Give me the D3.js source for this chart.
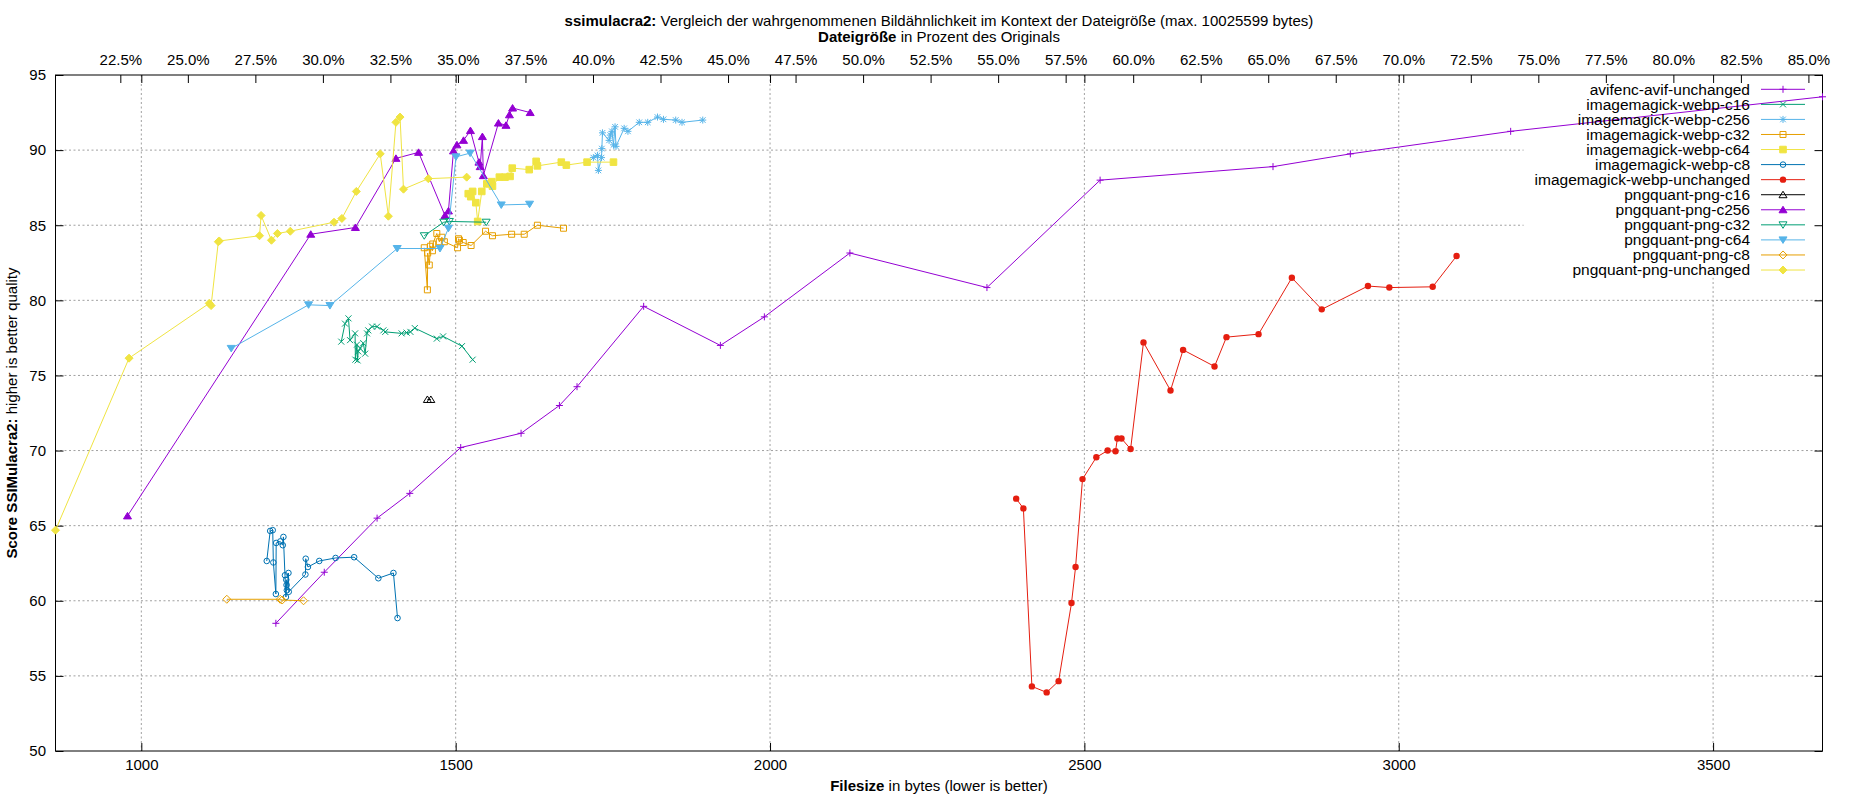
<!DOCTYPE html>
<html>
<head>
<meta charset="utf-8">
<title>ssimulacra2 Vergleich</title>
<style>
    body {
        margin: 0;
        background: #ffffff;
    }
    svg {
        display: block;
        font-family: "Liberation Sans", Arial, sans-serif;
        font-size: 15px;
    }
    .tick text {
        font-size: 15px;
        fill: #000000;
    }
    .tick line {
        stroke: #000000;
    }
    .legend text {
        font-size: 15.5px;
    }
</style>
</head>
<body>
<svg id="chart" width="1850" height="800"></svg>

<script src="https://d3js.org/d3.v7.min.js"></script>
<script>
// every series: [filesize in bytes, ssimulacra2 score]
const avifencAvifUnchanged = [
    [1214, 58.5], [1291, 61.9], [1375, 65.5], [1427, 67.15], [1508, 70.2], [1604, 71.15],
    [1665, 73.0], [1693, 74.25], [1799, 79.6], [1921, 77.0], [1991, 78.9], [2127, 83.15],
    [2345, 80.85], [2525, 88.0], [2800, 88.9], [2923, 89.75], [3178, 91.25], [3674, 93.55]
];
const imagemagickWebpC16 = [
    [1318, 77.25], [1324, 78.45], [1329.5, 78.8], [1332, 77.35], [1340, 77.8], [1340.5, 76.05],
    [1343, 77.05], [1344, 76.0], [1345, 76.6], [1348, 76.8], [1353, 77.15], [1356, 76.45],
    [1359, 77.8], [1361, 78.0], [1367, 78.25], [1375, 78.25], [1385, 78.0], [1388, 77.9],
    [1414, 77.8], [1422, 77.85], [1428, 77.9], [1435, 78.15], [1470, 77.45], [1480, 77.6],
    [1510, 76.95], [1527, 76.05]
];
const imagemagickWebpC256 = [
    [1719, 89.5], [1725.5, 89.65], [1727, 88.65], [1732, 89.5], [1732.5, 90.1], [1733.5, 91.15],
    [1744, 90.65], [1746, 91.0], [1748.5, 91.25], [1751, 90.35], [1753.5, 91.55], [1755, 90.25],
    [1768, 91.45], [1774, 91.25], [1792, 91.85], [1805.5, 91.85], [1821, 92.2], [1830.5, 92.05],
    [1850, 92.0], [1860, 91.85], [1893, 92.0]
];
const imagemagickWebpC32 = [
    [1450, 83.5], [1455, 80.7], [1455.5, 83.15], [1458, 82.35], [1460, 83.6], [1463, 83.3],
    [1463.5, 83.75], [1470, 84.45], [1474, 83.9], [1478, 84.2], [1482, 83.9], [1503, 83.5],
    [1504.5, 84.1], [1506, 84.0], [1512, 83.85], [1524.5, 83.65], [1547.5, 84.6], [1558.5, 84.3],
    [1589, 84.4], [1609, 84.4], [1630, 85.0], [1671.5, 84.8]
];
const imagemagickWebpC64 = [
    [1520, 87.1], [1524, 86.9], [1527, 87.25], [1532, 86.5], [1535, 85.25], [1541.5, 87.25],
    [1549.5, 87.75], [1557.5, 87.9], [1558.5, 87.6], [1569.5, 88.2], [1578.5, 88.2], [1586.5, 88.25],
    [1590, 88.8], [1617, 88.7], [1628, 89.25], [1630, 88.95], [1668, 89.2], [1676, 89.0],
    [1709, 89.2], [1751, 89.2]
];
const imagemagickWebpC8 = [
    [1199.5, 62.65], [1205, 64.65], [1209, 64.7], [1210, 62.55], [1214, 60.45], [1214.5, 63.85],
    [1221, 63.95], [1225, 63.7], [1226, 64.25], [1228.5, 61.7], [1230, 60.25], [1230.5, 61.4],
    [1231, 61.05], [1231.5, 60.7], [1234, 61.85], [1234.5, 60.6], [1261, 61.75], [1261.5, 62.8],
    [1265, 62.25], [1283, 62.65], [1309, 62.85], [1338.5, 62.9], [1377, 61.5], [1401, 61.85],
    [1407.5, 58.85]
];
const imagemagickWebpUnchanged = [
    [2391.5, 66.8], [2403, 66.15], [2416.5, 54.3], [2440, 53.9], [2459, 54.65], [2479.5, 59.85],
    [2486, 62.25], [2497, 68.1], [2519, 69.55], [2537, 70.0], [2549.5, 69.95], [2552.5, 70.8],
    [2559, 70.8], [2573.5, 70.1], [2594, 77.2], [2637, 74.0], [2657, 76.7], [2707, 75.6],
    [2726, 77.55], [2777, 77.75], [2830, 81.5], [2877.5, 79.4], [2951, 80.95], [2985, 80.85],
    [3054, 80.9], [3092, 82.95]
];
const pngquantPngC16 = [
    [1455, 73.4], [1460.5, 73.4]
];
const pngquantPngC256 = [
    [978, 65.65], [1269.5, 84.4], [1340.5, 84.85], [1405, 89.45], [1441, 89.85], [1483, 85.65],
    [1488.5, 85.95], [1496.5, 89.95], [1502, 90.35], [1512.5, 90.65], [1523.5, 91.3], [1537, 89.2],
    [1539, 88.9], [1542.5, 90.9], [1544, 88.3], [1568, 91.8], [1580, 91.65], [1585.5, 92.35],
    [1590.5, 92.8], [1618.5, 92.5]
];
const pngquantPngC32 = [
    [1450, 84.3], [1481, 85.2], [1490, 85.25], [1548.5, 85.2]
];
const pngquantPngC64 = [
    [1143, 76.8], [1266, 79.7], [1300, 79.65], [1407, 83.45], [1475, 83.45], [1488.5, 84.8],
    [1500.5, 89.55], [1523, 89.8], [1572.5, 86.35], [1617.5, 86.4]
];
const pngquantPngC8 = [
    [1136, 60.1], [1221, 60.1], [1224, 60.05], [1258, 60.0]
];
const pngquantPngUnchanged = [
    [863.5, 64.7], [980.5, 76.15], [1108, 79.8], [1111, 79.65], [1122.5, 83.9], [1124, 83.95],
    [1188, 84.3], [1190.5, 85.65], [1207, 84.0], [1216.5, 84.45], [1237, 84.6], [1306.5, 85.2],
    [1319, 85.45], [1342, 87.25], [1380, 89.75], [1393, 85.6], [1405, 91.85], [1411.5, 92.2],
    [1417, 87.4], [1456.5, 88.1], [1517.5, 88.2]
];

const seriesNames = [
    'avifenc-avif-unchanged', 'imagemagick-webp-c16', 'imagemagick-webp-c256',
    'imagemagick-webp-c32', 'imagemagick-webp-c64', 'imagemagick-webp-c8',
    'imagemagick-webp-unchanged', 'pngquant-png-c16', 'pngquant-png-c256',
    'pngquant-png-c32', 'pngquant-png-c64', 'pngquant-png-c8', 'pngquant-png-unchanged'
];
const seriesData = [
    avifencAvifUnchanged, imagemagickWebpC16, imagemagickWebpC256, imagemagickWebpC32,
    imagemagickWebpC64, imagemagickWebpC8, imagemagickWebpUnchanged, pngquantPngC16,
    pngquantPngC256, pngquantPngC32, pngquantPngC64, pngquantPngC8, pngquantPngUnchanged
];

const xTicks = [1000, 1500, 2000, 2500, 3000, 3500];
const yTicks = [50, 55, 60, 65, 70, 75, 80, 85, 90, 95];
const x2Ticks = [22.5, 25, 27.5, 30, 32.5, 35, 37.5, 40, 42.5, 45, 47.5, 50, 52.5, 55, 57.5,
    60, 62.5, 65, 67.5, 70, 72.5, 75, 77.5, 80, 82.5, 85];
const yDomain = [50, 95];
// bytes that stand for 100 % on the top axis
const originalBytes = 4296;

// styles (gnuplot default colour cycle and point types)
const colors = ['#9400d3', '#009e73', '#56b4e9', '#e69f00', '#f0e442', '#0072b2', '#e51e10',
    '#000000', '#9400d3', '#009e73', '#56b4e9', '#e69f00', '#f0e442'];
const pointTypes = ['plus', 'cross', 'star', 'square', 'squareFilled', 'circle', 'circleFilled',
    'triangle', 'triangleFilled', 'triangleDown', 'triangleDownFilled', 'diamond', 'diamondFilled'];

const width = 1850, height = 800;
const margin = {top: 75, right: 27.5, bottom: 49, left: 55.5};
const plotRight = width - margin.right;
const plotBottom = height - margin.bottom;

const svg = d3.select('#chart');

const x = d3.scaleLinear()
    .domain(d3.extent(seriesData.flat(), d => d[0]))
    .range([margin.left, plotRight]);

const y = d3.scaleLinear()
    .domain(yDomain)
    .range([plotBottom, margin.top]);

const x2 = d3.scaleLinear()
    .domain(x.domain().map(v => v / originalBytes * 100))
    .range([margin.left, plotRight]);

// legend first so the key box size is known for the grid
const legendRowY = i => 89.3 + i * 15.06;
const legendTextRight = 1750;
const legend = svg.append('g').attr('class', 'legend');

let keyLeft = plotRight;
seriesNames.forEach((name, i) => {
    const t = legend.append('text')
        .attr('x', legendTextRight)
        .attr('y', legendRowY(i))
        .attr('dy', '0.35em')
        .attr('text-anchor', 'end')
        .attr('fill', '#000')
        .text(name);
    keyLeft = Math.min(keyLeft, legendTextRight - t.node().getComputedTextLength());
});
keyLeft -= 11;
const keyBottom = legendRowY(seriesNames.length - 1) + 7.5;

// grid lines are left out where the key sits
const defs = svg.append('defs');
const mask = defs.append('mask').attr('id', 'keyMask');
mask.append('rect').attr('x', 0).attr('y', 0).attr('width', width).attr('height', height).attr('fill', '#fff');
mask.append('rect').attr('x', keyLeft).attr('y', margin.top)
    .attr('width', plotRight - keyLeft).attr('height', keyBottom - margin.top).attr('fill', '#000');

const grid = svg.insert('g', '.legend').attr('mask', 'url(#keyMask)');
grid.selectAll('.gx')
    .data(xTicks)
    .enter().append('line')
    .attr('x1', d => x(d)).attr('x2', d => x(d))
    .attr('y1', margin.top).attr('y2', plotBottom);
grid.selectAll('.gy')
    .data(yTicks.filter(d => d > yDomain[0] && d < yDomain[1]))
    .enter().append('line')
    .attr('x1', margin.left).attr('x2', plotRight)
    .attr('y1', d => y(d)).attr('y2', d => y(d));
grid.selectAll('line')
    .attr('stroke', '#a0a0a0')
    .attr('stroke-width', 1)
    .attr('stroke-dasharray', '2,2.5');

// axes, all ticks point into the plot
const tickLen = 8;
svg.append('g')
    .attr('transform', `translate(0,${plotBottom})`)
    .call(d3.axisBottom(x).tickValues(xTicks).tickSizeInner(-tickLen).tickSizeOuter(0)
        .tickPadding(8).tickFormat(d3.format('d')));
svg.append('g')
    .attr('transform', `translate(0,${margin.top})`)
    .call(d3.axisTop(x).tickValues(xTicks).tickSizeInner(-tickLen).tickSizeOuter(0).tickFormat(''));
svg.append('g')
    .attr('transform', `translate(0,${margin.top})`)
    .call(d3.axisTop(x2).tickValues(x2Ticks).tickSizeInner(-tickLen).tickSizeOuter(0)
        .tickPadding(10).tickFormat(d => d3.format('.1f')(d) + '%'));
svg.append('g')
    .attr('transform', `translate(${margin.left},0)`)
    .call(d3.axisLeft(y).tickValues(yTicks).tickSizeInner(-tickLen).tickSizeOuter(0).tickPadding(9.5));
svg.append('g')
    .attr('transform', `translate(${plotRight},0)`)
    .call(d3.axisRight(y).tickValues(yTicks).tickSizeInner(-tickLen).tickSizeOuter(0).tickFormat(''));
svg.selectAll('.domain').remove();
svg.selectAll('.tick text').attr('font-family', null).attr('font-size', null);

svg.append('rect')
    .attr('x', margin.left).attr('y', margin.top)
    .attr('width', plotRight - margin.left).attr('height', plotBottom - margin.top)
    .attr('fill', 'none').attr('stroke', '#000').attr('stroke-width', 1);

// point symbols like gnuplot's
function drawPoint(g, type, color) {
    const s = 3.5;
    const stroke = (d) => g.append('path').attr('d', d).attr('fill', 'none').attr('stroke', color).attr('stroke-width', 1);
    const fill = (d) => g.append('path').attr('d', d).attr('fill', color).attr('stroke', color).attr('stroke-width', 1);
    const tri = `M${-4},3L4,3L0,-3.5Z`;
    const triDown = `M${-4},-3L4,-3L0,3.5Z`;
    const dia = `M0,-4L4,0L0,4L-4,0Z`;
    switch (type) {
        case 'plus': stroke(`M${-s},0H${s}M0,${-s}V${s}`); break;
        case 'cross': stroke(`M-3,-3L3,3M-3,3L3,-3`); break;
        case 'star': stroke(`M${-s},0H${s}M0,${-s}V${s}M-2.8,-2.8L2.8,2.8M-2.8,2.8L2.8,-2.8`); break;
        case 'square': stroke('M-3,-3H3V3H-3Z'); break;
        case 'squareFilled': fill('M-3.3,-3.3H3.3V3.3H-3.3Z'); break;
        case 'circle':
            g.append('circle').attr('r', 2.8).attr('fill', 'none').attr('stroke', color).attr('stroke-width', 1);
            break;
        case 'circleFilled':
            g.append('circle').attr('r', 3.2).attr('fill', color);
            break;
        case 'triangle': stroke(tri); break;
        case 'triangleFilled': fill(tri); break;
        case 'triangleDown': stroke(triDown); break;
        case 'triangleDownFilled': fill(triDown); break;
        case 'diamond': stroke(dia); break;
        case 'diamondFilled': fill(dia); break;
    }
}

const line = d3.line()
    .x(d => x(d[0]))
    .y(d => y(d[1]));

const plots = svg.append('g');
seriesData.forEach((data, i) => {
    const g = plots.append('g');
    g.append('path')
        .datum(data)
        .attr('d', line)
        .attr('fill', 'none')
        .attr('stroke', colors[i])
        .attr('stroke-width', 1);
    g.selectAll('.pt')
        .data(data)
        .enter().append('g')
        .attr('transform', d => `translate(${x(d[0])},${y(d[1])})`)
        .each(function() { drawPoint(d3.select(this), pointTypes[i], colors[i]); });
});

// legend samples
seriesNames.forEach((name, i) => {
    const ly = legendRowY(i);
    legend.append('line')
        .attr('x1', 1761).attr('x2', 1805)
        .attr('y1', ly).attr('y2', ly)
        .attr('stroke', colors[i]).attr('stroke-width', 1);
    const m = legend.append('g').attr('transform', `translate(1783,${ly})`);
    drawPoint(m, pointTypes[i], colors[i]);
});
legend.raise();

// titles and axis labels
const title = svg.append('text')
    .attr('x', (margin.left + plotRight) / 2).attr('y', 26)
    .attr('text-anchor', 'middle');
title.append('tspan').attr('font-weight', 'bold').text('ssimulacra2:');
title.append('tspan').text(' Vergleich der wahrgenommenen Bildähnlichkeit im Kontext der Dateigröße (max. 10025599 bytes)');

const x2Label = svg.append('text')
    .attr('x', (margin.left + plotRight) / 2).attr('y', 41.5)
    .attr('text-anchor', 'middle');
x2Label.append('tspan').attr('font-weight', 'bold').text('Dateigröße');
x2Label.append('tspan').text(' in Prozent des Originals');

const xLabel = svg.append('text')
    .attr('x', (margin.left + plotRight) / 2).attr('y', 791)
    .attr('text-anchor', 'middle');
xLabel.append('tspan').attr('font-weight', 'bold').text('Filesize');
xLabel.append('tspan').text(' in bytes (lower is better)');

const yLabel = svg.append('text')
    .attr('transform', `translate(17,${(margin.top + plotBottom) / 2}) rotate(-90)`)
    .attr('text-anchor', 'middle');
yLabel.append('tspan').attr('font-weight', 'bold').text('Score SSIMulacra2:');
yLabel.append('tspan').text(' higher is better quality');
</script>
</body>
</html>
